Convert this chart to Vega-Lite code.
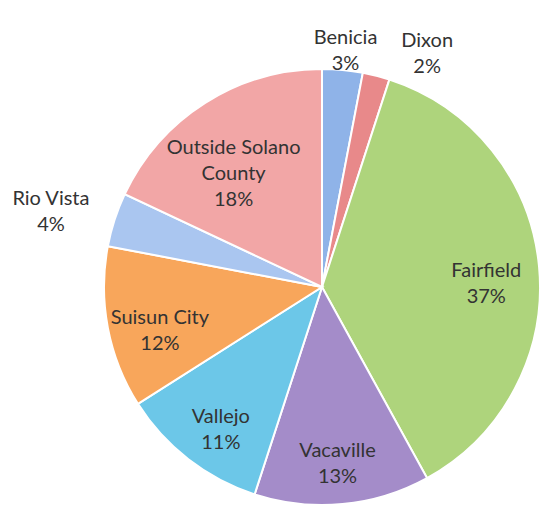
{
  "$schema": "https://vega.github.io/schema/vega-lite/v6.json",
  "width": 644,
  "height": 574,
  "autosize": {"type": "none"},
  "padding": 0,
  "background": "white",
  "config": {"view": {"stroke": null}},
  "data": {
    "values": [
      {"name": "Benicia", "label": "Benicia", "value": 3, "order": 1},
      {"name": "Dixon", "label": "Dixon", "value": 2, "order": 2},
      {"name": "Fairfield", "label": "Fairfield", "value": 37, "order": 3},
      {"name": "Vacaville", "label": "Vacaville", "value": 13, "order": 4},
      {"name": "Vallejo", "label": "Vallejo", "value": 11, "order": 5},
      {"name": "Suisun City", "label": "Suisun City", "value": 12, "order": 6},
      {"name": "Rio Vista", "label": "Rio Vista", "value": 4, "order": 7},
      {"name": "Outside Solano County", "label": "Outside Solano\nCounty", "value": 18, "order": 8}
    ]
  },
  "transform": [
    {"stack": "value", "groupby": [], "sort": [{"field": "order", "order": "ascending"}], "as": ["v0", "v1"]},
    {"calculate": "(datum.v0 + datum.v1) / 2", "as": "mid"},
    {"calculate": "datum.label + '\\n' + datum.value + '%'", "as": "text"}
  ],
  "layer": [
    {
      "mark": {"type": "arc", "radius": 218, "stroke": "white", "strokeWidth": 2},
      "encoding": {
        "theta": {"field": "v0", "type": "quantitative", "scale": {"domain": [0, 100]}},
        "theta2": {"field": "v1"},
        "color": {
          "field": "name",
          "type": "nominal",
          "legend": null,
          "scale": {
            "domain": ["Benicia", "Dixon", "Fairfield", "Vacaville", "Vallejo", "Suisun City", "Rio Vista", "Outside Solano County"],
            "range": ["#8FB3E8", "#E8898A", "#AED47C", "#A48CC9", "#6CC7E8", "#F8A65B", "#AAC6F0", "#F2A6A6"]
          }
        }
      }
    },
    {
      "transform": [{"filter": "datum.value >= 5"}],
      "mark": {"type": "text", "radius": 165, "font": "Lato", "fontSize": 20, "lineHeight": 26, "lineBreak": "\n", "color": "#333333", "align": "center", "baseline": "middle"},
      "encoding": {
        "theta": {"field": "mid", "type": "quantitative", "stack": null, "scale": {"domain": [0, 100]}},
        "text": {"field": "text"}
      }
    },
    {
      "transform": [{"filter": "datum.name == 'Benicia'"}],
      "mark": {"type": "text", "radius": 250, "font": "Lato", "fontSize": 20, "lineHeight": 26, "lineBreak": "\n", "color": "#333333", "align": "center", "baseline": "middle"},
      "encoding": {
        "theta": {"field": "mid", "type": "quantitative", "stack": null, "scale": {"domain": [0, 100]}},
        "text": {"field": "text"}
      }
    },
    {
      "transform": [{"filter": "datum.name == 'Dixon'"}],
      "mark": {"type": "text", "radius": 262, "dx": 40, "dy": 8, "font": "Lato", "fontSize": 20, "lineHeight": 26, "lineBreak": "\n", "color": "#333333", "align": "center", "baseline": "middle"},
      "encoding": {
        "theta": {"field": "mid", "type": "quantitative", "stack": null, "scale": {"domain": [0, 100]}},
        "text": {"field": "text"}
      }
    },
    {
      "transform": [{"filter": "datum.name == 'Rio Vista'"}],
      "mark": {"type": "text", "radius": 285, "font": "Lato", "fontSize": 20, "lineHeight": 26, "lineBreak": "\n", "color": "#333333", "align": "center", "baseline": "middle"},
      "encoding": {
        "theta": {"field": "mid", "type": "quantitative", "stack": null, "scale": {"domain": [0, 100]}},
        "text": {"field": "text"}
      }
    }
  ]
}
